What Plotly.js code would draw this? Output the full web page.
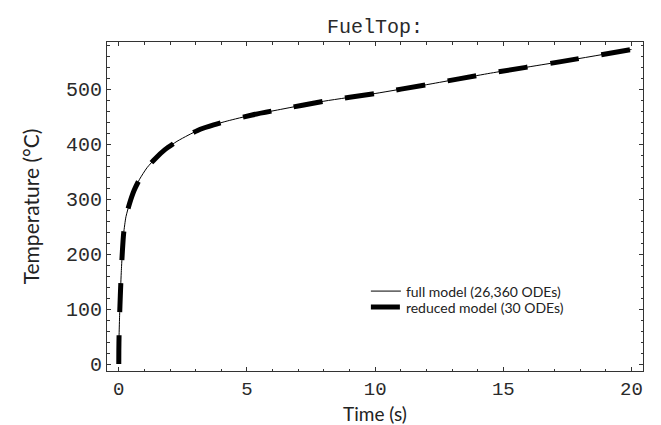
<!DOCTYPE html>
<html>
<head>
<meta charset="utf-8">
<script src="https://cdn.plot.ly/plotly-3.0.1.min.js"></script>
<style>html,body{margin:0;padding:0;background:#fff;}#chart{width:661px;height:425px;}</style>
</head>
<body>
<div id="chart"></div>
<script>
// Time (s)
const timeFull = [0, 0.002, 0.01, 0.03, 0.06, 0.1, 0.14, 0.19, 0.28, 0.42, 0.6, 0.81, 1.1, 1.43, 1.8, 2.27, 2.7, 3.18, 3.7, 4.23, 5.2, 6.3, 8, 10, 12, 14.5, 17.25, 20];
// Temperature (°C), full model
const tempFull = [0, 25, 50, 85, 125, 170, 205, 238, 268, 292, 316, 336, 357, 374, 390, 405, 416, 427, 435, 442, 453, 463, 478, 492, 508, 529, 550, 572];
// reduced model (visually identical)
const timeReduced = timeFull.slice();
const tempReduced = tempFull.slice();

const seriesNames = ["full model (26,360 ODEs)", "reduced model (30 ODEs)"];
const xTicks = [0, 5, 10, 15, 20];
const yTicks = [0, 100, 200, 300, 400, 500];

const monoFont = "Liberation Mono, Courier New, monospace";
const sansFont = "Lato, Open Sans, sans-serif";

const traces = [
  {x: timeFull, y: tempFull, name: seriesNames[0], type: "scatter", mode: "lines", legend: "legend",
   line: {color: "#000", width: 1, shape: "spline", smoothing: 0.6}},
  {x: timeReduced, y: tempReduced, name: seriesNames[1], type: "scatter", mode: "lines", legend: "legend2",
   line: {color: "#000", width: 5, dash: "29px,23px", shape: "spline", smoothing: 0.6}}
];

const axisCommon = {
  showgrid: false, zeroline: false, showline: true, mirror: "allticks",
  linecolor: "#333", linewidth: 1, ticks: "inside", ticklen: 4, tickcolor: "#333",
  tickfont: {family: monoFont, size: 20, color: "#2a2a2a"},
};

const legendFont = {family: sansFont, size: 14, color: "#222"};

const layout = {
  width: 661, height: 425,
  margin: {l: 107, r: 18, t: 42, b: 54},
  paper_bgcolor: "#fff", plot_bgcolor: "#fff",
  title: {text: "FuelTop:", font: {family: monoFont, size: 20, color: "#2a2a2a"},
          x: 0.5, xref: "paper", y: 0.955, yref: "container", xanchor: "center"},
  xaxis: Object.assign({}, axisCommon, {
    range: [-0.46, 20.45], tickvals: xTicks, ticktext: xTicks.map(String),
    tickfont: {family: monoFont, size: 19, color: "#2a2a2a"},
    minor: {dtick: 1, ticks: "inside", ticklen: 2.5, tickcolor: "#333"},
    title: {text: "Time (s)", font: {family: sansFont, size: 19, color: "#222"}, standoff: 7}
  }),
  yaxis: Object.assign({}, axisCommon, {
    range: [-12.7, 585.7], tickvals: yTicks, ticktext: yTicks.map(String),
    minor: {dtick: 20, ticks: "inside", ticklen: 2.5, tickcolor: "#333"},
    title: {text: "Temperature (°C)", font: {family: sansFont, size: 21, color: "#222"}, standoff: 20}
  }),
  showlegend: true,
  legend: {x: 0.483, y: 0.2417, xanchor: "left", yanchor: "middle", bgcolor: "rgba(0,0,0,0)",
           font: legendFont, itemwidth: 30},
  legend2: {x: 0.483, y: 0.193, xanchor: "left", yanchor: "middle", bgcolor: "rgba(0,0,0,0)",
           font: legendFont, itemwidth: 30}
};

Plotly.newPlot("chart", traces, layout, {displayModeBar: false, staticPlot: true});
</script>
</body>
</html>
